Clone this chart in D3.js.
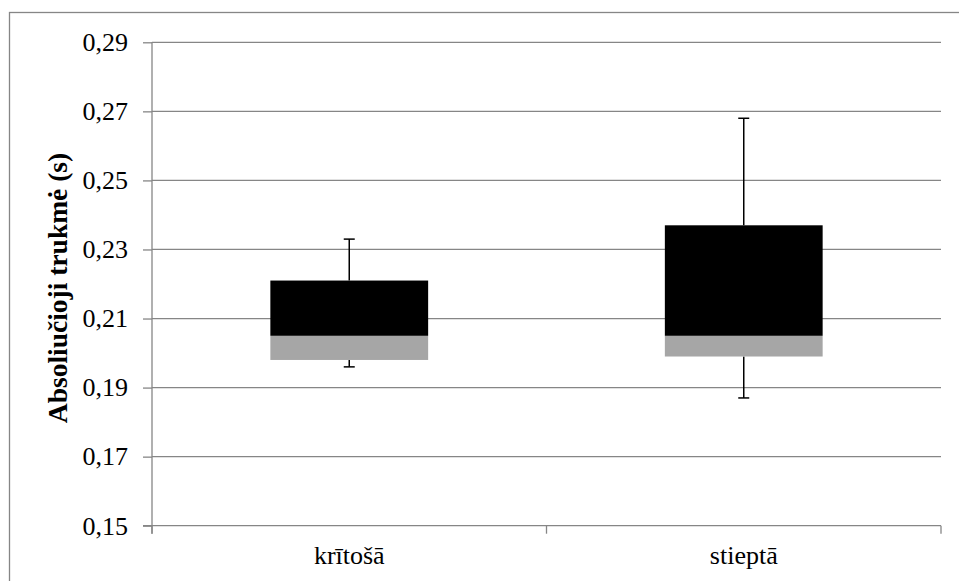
<!DOCTYPE html>
<html><head><meta charset="utf-8">
<script src="https://cdn.jsdelivr.net/npm/d3@7"></script>
</head><body style="margin:0">
<svg id="c" width="959" height="581" style="display:block"></svg>
<script>
const categories = ["krītošā", "stieptā"];
const q1Values = [0.198, 0.199];
const medianValues = [0.205, 0.205];
const q3Values = [0.221, 0.237];
const minValues = [0.196, 0.187];
const maxValues = [0.233, 0.268];
const yTicks = [0.15, 0.17, 0.19, 0.21, 0.23, 0.25, 0.27, 0.29];

(function () {
const svg = d3.select("#c");
const pLeft = 152, pRight = 941, pTop = 42.3, pBottom = 525.7;
const font = "Liberation Serif";
const gridColor = "#868686";

svg.append("rect").attr("x", 9.5).attr("y", 12.5).attr("width", 960).attr("height", 600)
  .attr("fill", "#fff").attr("stroke", gridColor).attr("stroke-width", 1.3);

const y = d3.scaleLinear().domain([0.15, 0.29]).range([pBottom, pTop]);
const x = d3.scaleBand().domain(categories).range([pLeft, pRight]).padding(0);

// gridlines
svg.append("g").selectAll("line").data(yTicks.filter(t => t > 0.15)).join("line")
  .attr("x1", pLeft).attr("x2", pRight).attr("y1", d => y(d)).attr("y2", d => y(d))
  .attr("stroke", gridColor).attr("stroke-width", 1.3);

// y axis
const yAxis = d3.axisLeft(y).tickValues(yTicks).tickSize(9).tickPadding(15)
  .tickFormat(d => d3.format(".2f")(d).replace(".", ","));
const gy = svg.append("g").attr("transform", `translate(${pLeft},0)`).call(yAxis);
gy.attr("font-family", font).attr("font-size", 26);
gy.select(".domain").remove();
gy.append("line").attr("x1", 0).attr("x2", 0).attr("y1", pTop).attr("y2", pBottom + 8)
  .attr("stroke", gridColor).attr("stroke-width", 1.3);
gy.selectAll(".tick line").attr("stroke", gridColor).attr("stroke-width", 1.3);
gy.selectAll(".tick text").attr("font-family", font).style("font-family", font)
  .attr("font-size", 26).attr("fill", "#000");

// x axis
const gx = svg.append("g").attr("transform", `translate(0,${pBottom})`)
  .call(d3.axisBottom(x).tickSize(0).tickPadding(20));
gx.attr("font-family", font).attr("font-size", 26);
gx.select(".domain").remove();
gx.append("line").attr("x1", pLeft - 9).attr("x2", pRight).attr("y1", 0).attr("y2", 0)
  .attr("stroke", gridColor).attr("stroke-width", 1.3);
const bounds = [pLeft, ...categories.slice(1).map(c => x(c)), pRight];
gx.selectAll(".bt").data(bounds).join("line").attr("class", "bt")
  .attr("x1", d => d).attr("x2", d => d).attr("y1", 0).attr("y2", 8)
  .attr("stroke", gridColor).attr("stroke-width", 1.3);
gx.selectAll(".tick text").attr("font-family", font).style("font-family", font)
  .attr("font-size", 26).attr("fill", "#000");

// y title
svg.append("text").attr("transform", `translate(67,288) rotate(-90)`)
  .attr("text-anchor", "middle").attr("font-family", font).style("font-family", font)
  .attr("font-size", 27.5).attr("font-weight", "bold").attr("fill", "#000")
  .text("Absoliučioji trukmė (s)");

const bw = x.bandwidth() * 0.4;
const cx = c => x(c) + x.bandwidth() / 2;

// error bars
const eb = svg.append("g").attr("stroke", "#000").attr("stroke-width", 1.5);
categories.forEach((c, i) => {
  [[q3Values[i], maxValues[i]], [q1Values[i], minValues[i]]].forEach(([a, b]) => {
    eb.append("line").attr("x1", cx(c)).attr("x2", cx(c)).attr("y1", y(a)).attr("y2", y(b));
    eb.append("line").attr("x1", cx(c) - 5.5).attr("x2", cx(c) + 5.5).attr("y1", y(b)).attr("y2", y(b));
  });
});

// grey segment (q1 -> median)
svg.append("g").selectAll("rect").data(categories).join("rect")
  .attr("x", c => cx(c) - bw / 2).attr("width", bw)
  .attr("y", (c, i) => y(medianValues[i])).attr("height", (c, i) => y(q1Values[i]) - y(medianValues[i]))
  .attr("fill", "#a6a6a6");
// black segment (median -> q3)
svg.append("g").selectAll("rect").data(categories).join("rect")
  .attr("x", c => cx(c) - bw / 2).attr("width", bw)
  .attr("y", (c, i) => y(q3Values[i])).attr("height", (c, i) => y(medianValues[i]) - y(q3Values[i]))
  .attr("fill", "#000");
})();
</script>
</body></html>
